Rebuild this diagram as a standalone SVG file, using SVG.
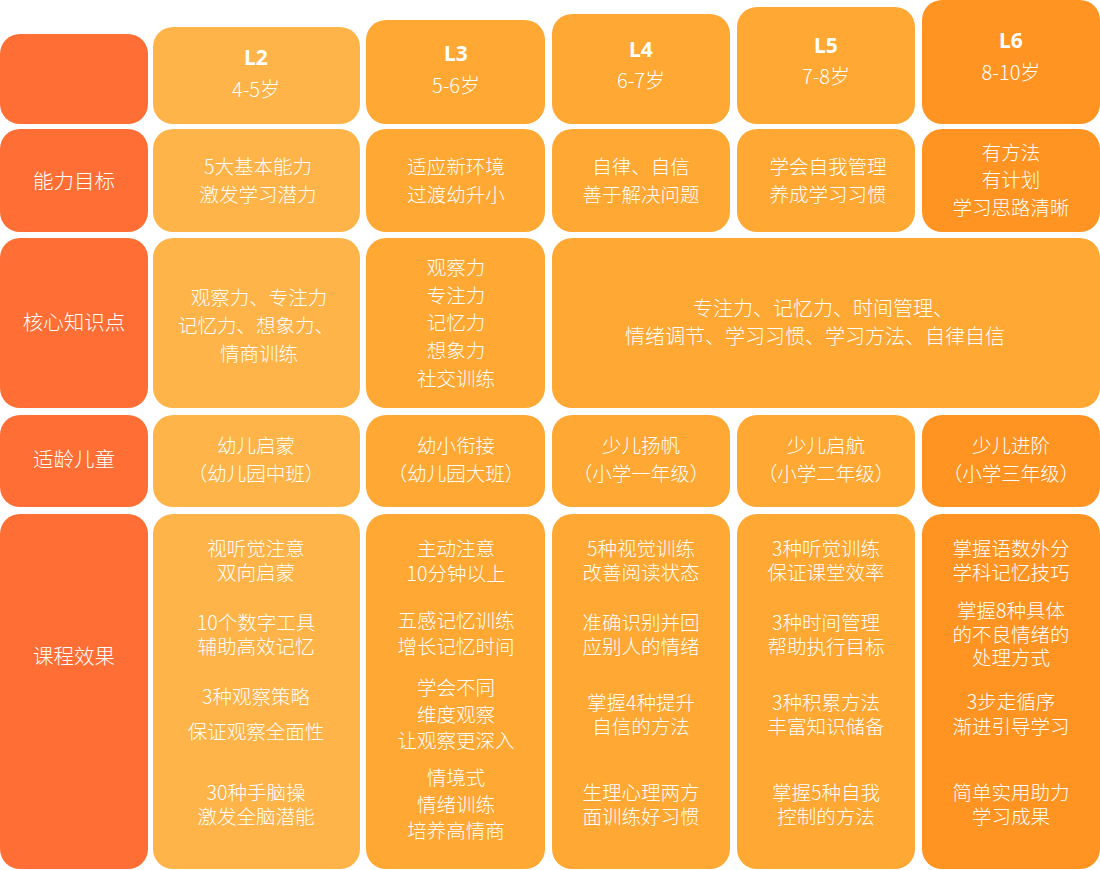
<svg xmlns="http://www.w3.org/2000/svg" width="1100" height="870" viewBox="0 0 1100 870">
<style>
text{font-family:"Noto Sans CJK SC","Noto Sans",sans-serif;fill:#fff;text-anchor:middle;font-size:19.5px;font-weight:300}
.h{font-family:"Noto Sans","Noto Sans CJK SC",sans-serif;font-weight:bold;font-size:21px}
.a{font-size:20px}
.lab{font-size:20.5px}
.w{font-size:20px}
.c0{fill:#FF6F35}.c2{fill:#FFB449}.c3{fill:#FFA834}.c4{fill:#FFA834}.c5{fill:#FFA834}.c6{fill:#FF9422}
</style>
<rect width="1100" height="870" fill="#fff"/>
<g id="header">
<rect class="c0" x="0" y="34" width="148" height="90" rx="20"/>
<g id="h-l2"><rect class="c2" x="153" y="27" width="207" height="97" rx="20"/><text class="h" x="256" y="65">L2</text><text class="a" x="256" y="97">4-5岁</text></g>
<g id="h-l3"><rect class="c3" x="366" y="20" width="179" height="104" rx="20"/><text class="h" x="456" y="61">L3</text><text class="a" x="456" y="93">5-6岁</text></g>
<g id="h-l4"><rect class="c4" x="552" y="14" width="178" height="110" rx="20"/><text class="h" x="641" y="57">L4</text><text class="a" x="641" y="88">6-7岁</text></g>
<g id="h-l5"><rect class="c5" x="737" y="7" width="178" height="117" rx="20"/><text class="h" x="826" y="53">L5</text><text class="a" x="826" y="84">7-8岁</text></g>
<g id="h-l6"><rect class="c6" x="922" y="0" width="178" height="124" rx="20"/><text class="h" x="1011" y="48">L6</text><text class="a" x="1011" y="80">8-10岁</text></g>
</g>
<g id="row-goal">
<g id="goal-label"><rect class="c0" x="0" y="129" width="148" height="103" rx="20"/><text class="lab" x="74" y="189">能力目标</text></g>
<g id="goal-l2"><rect class="c2" x="153" y="129" width="207" height="103" rx="20"/><text x="258" y="174">5大基本能力</text><text x="258" y="202">激发学习潜力</text></g>
<g id="goal-l3"><rect class="c3" x="366" y="129" width="179" height="103" rx="20"/><text x="456" y="174">适应新环境</text><text x="456" y="202">过渡幼升小</text></g>
<g id="goal-l4"><rect class="c4" x="552" y="129" width="178" height="103" rx="20"/><text x="641" y="174">自律、自信</text><text x="641" y="202">善于解决问题</text></g>
<g id="goal-l5"><rect class="c5" x="737" y="129" width="178" height="103" rx="20"/><text x="828" y="174">学会自我管理</text><text x="828" y="202">养成学习习惯</text></g>
<g id="goal-l6"><rect class="c6" x="922" y="129" width="178" height="103" rx="20"/><text x="1011" y="160">有方法</text><text x="1011" y="187">有计划</text><text x="1011" y="215">学习思路清晰</text></g>
</g>
<g id="row-core">
<g id="core-label"><rect class="c0" x="0" y="238" width="148" height="170" rx="20"/><text class="lab" x="74" y="330">核心知识点</text></g>
<g id="core-l2"><rect class="c2" x="153" y="238" width="207" height="170" rx="20"/><text x="259" y="305">观察力、专注力</text><text x="256" y="333">记忆力、想象力、</text><text x="259" y="361">情商训练</text></g>
<g id="core-l3"><rect class="c3" x="366" y="238" width="179" height="170" rx="20"/><text x="456" y="275">观察力</text><text x="456" y="303">专注力</text><text x="456" y="330">记忆力</text><text x="456" y="358">想象力</text><text x="456" y="386">社交训练</text></g>
<g id="core-l456"><rect class="c4" x="552" y="238" width="548" height="170" rx="20"/><text class="w" x="823" y="316">专注力、记忆力、时间管理、</text><text class="w" x="815" y="344">情绪调节、学习习惯、学习方法、自律自信</text></g>
</g>
<g id="row-age">
<g id="age-label"><rect class="c0" x="0" y="415" width="148" height="92" rx="20"/><text class="lab" x="74" y="467">适龄儿童</text></g>
<g id="age-l2"><rect class="c2" x="153" y="415" width="207" height="92" rx="20"/><text x="256" y="453">幼儿启蒙</text><text x="256" y="481">（幼儿园中班）</text></g>
<g id="age-l3"><rect class="c3" x="366" y="415" width="179" height="92" rx="20"/><text x="456" y="453">幼小衔接</text><text x="456" y="481">（幼儿园大班）</text></g>
<g id="age-l4"><rect class="c4" x="552" y="415" width="178" height="92" rx="20"/><text x="641" y="453">少儿扬帆</text><text x="641" y="481">（小学一年级）</text></g>
<g id="age-l5"><rect class="c5" x="737" y="415" width="178" height="92" rx="20"/><text x="826" y="453">少儿启航</text><text x="826" y="481">（小学二年级）</text></g>
<g id="age-l6"><rect class="c6" x="922" y="415" width="178" height="92" rx="20"/><text x="1011" y="453">少儿进阶</text><text x="1011" y="481">（小学三年级）</text></g>
</g>
<g id="row-effect">
<g id="eff-label"><rect class="c0" x="0" y="514" width="148" height="355" rx="20"/><text class="lab" x="74" y="664">课程效果</text></g>
<g id="eff-l2"><rect class="c2" x="153" y="514" width="207" height="355" rx="20"/>
<text x="256" y="556">视听觉注意</text><text x="256" y="580">双向启蒙</text>
<text x="256" y="630">10个数字工具</text><text x="256" y="654">辅助高效记忆</text>
<text x="256" y="704">3种观察策略</text><text x="256" y="739">保证观察全面性</text>
<text x="256" y="800">30种手脑操</text><text x="256" y="824">激发全脑潜能</text></g>
<g id="eff-l3"><rect class="c3" x="366" y="514" width="179" height="355" rx="20"/>
<text x="456" y="556">主动注意</text><text x="456" y="581">10分钟以上</text>
<text x="456" y="628">五感记忆训练</text><text x="456" y="654">增长记忆时间</text>
<text x="456" y="695">学会不同</text><text x="456" y="722">维度观察</text><text x="456" y="748">让观察更深入</text>
<text x="456" y="785">情境式</text><text x="456" y="812">情绪训练</text><text x="456" y="838">培养高情商</text></g>
<g id="eff-l4"><rect class="c4" x="552" y="514" width="178" height="355" rx="20"/>
<text x="641" y="556">5种视觉训练</text><text x="641" y="580">改善阅读状态</text>
<text x="641" y="630">准确识别并回</text><text x="641" y="654">应别人的情绪</text>
<text x="641" y="710">掌握4种提升</text><text x="641" y="734">自信的方法</text>
<text x="641" y="800">生理心理两方</text><text x="641" y="824">面训练好习惯</text></g>
<g id="eff-l5"><rect class="c5" x="737" y="514" width="178" height="355" rx="20"/>
<text x="826" y="556">3种听觉训练</text><text x="826" y="580">保证课堂效率</text>
<text x="826" y="630">3种时间管理</text><text x="826" y="654">帮助执行目标</text>
<text x="826" y="710">3种积累方法</text><text x="826" y="734">丰富知识储备</text>
<text x="826" y="800">掌握5种自我</text><text x="826" y="824">控制的方法</text></g>
<g id="eff-l6"><rect class="c6" x="922" y="514" width="178" height="355" rx="20"/>
<text x="1011" y="556">掌握语数外分</text><text x="1011" y="580">学科记忆技巧</text>
<text x="1011" y="618">掌握8种具体</text><text x="1011" y="642">的不良情绪的</text><text x="1011" y="665">处理方式</text>
<text x="1011" y="709">3步走循序</text><text x="1011" y="734">渐进引导学习</text>
<text x="1011" y="800">简单实用助力</text><text x="1011" y="824">学习成果</text></g>
</g>
<g id="connectors"/>
</svg>
